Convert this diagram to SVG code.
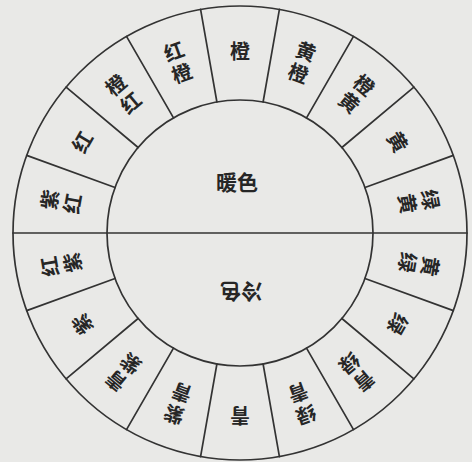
<svg xmlns="http://www.w3.org/2000/svg" width="472" height="462" viewBox="0 0 472 462">
<style>
.ln{stroke:#333;stroke-width:1.7;fill:none;stroke-linecap:round}
.lab{font-family:"Noto Sans CJK SC","Noto Sans CJK JP",sans-serif;font-size:20px;font-weight:bold;fill:#262626;text-anchor:middle;dominant-baseline:central}
.mid{font-size:21px}
</style>
<rect width="472" height="462" fill="#e9e9e7"/>
<g id="wheel">
<circle class="ln" cx="240" cy="233" r="227"/>
<circle class="ln" cx="240" cy="233" r="133"/>
</g>
<g id="connectors">
<line class="ln" x1="13" y1="233" x2="467" y2="233"/>
<line class="ln" x1="263.10" y1="102.02" x2="279.42" y2="9.45"/>
<line class="ln" x1="306.5" y1="117.82" x2="353.5" y2="36.41"/>
<line class="ln" x1="341.88" y1="147.51" x2="413.89" y2="87.09"/>
<line class="ln" x1="364.98" y1="187.51" x2="453.31" y2="155.36"/>
<line class="ln" x1="364.98" y1="278.49" x2="453.31" y2="310.64"/>
<line class="ln" x1="341.88" y1="318.49" x2="413.89" y2="378.91"/>
<line class="ln" x1="306.5" y1="348.18" x2="353.5" y2="429.59"/>
<line class="ln" x1="263.10" y1="363.98" x2="279.42" y2="456.55"/>
<line class="ln" x1="216.90" y1="102.02" x2="200.58" y2="9.45"/>
<line class="ln" x1="173.5" y1="117.82" x2="126.5" y2="36.41"/>
<line class="ln" x1="138.12" y1="147.51" x2="66.11" y2="87.09"/>
<line class="ln" x1="115.02" y1="187.51" x2="26.69" y2="155.36"/>
<line class="ln" x1="115.02" y1="278.49" x2="26.69" y2="310.64"/>
<line class="ln" x1="138.12" y1="318.49" x2="66.11" y2="378.91"/>
<line class="ln" x1="173.5" y1="348.18" x2="126.5" y2="429.59"/>
<line class="ln" x1="216.90" y1="363.98" x2="200.58" y2="456.55"/>
</g>
<g id="warm"><text class="lab mid" x="237" y="181">暖色</text></g>
<g id="cool"><text class="lab mid" transform="translate(241 293) rotate(180)" x="0" y="0">冷色</text></g>
<g id="seg-cheng" transform="translate(240 233) rotate(0)"><text class="lab" x="0" y="-183">橙</text></g>
<g id="seg-huangcheng" transform="translate(240 233) rotate(20)"><text class="lab" x="0" y="-194">黄</text><text class="lab" x="0" y="-171">橙</text></g>
<g id="seg-chenghuang" transform="translate(240 233) rotate(40)"><text class="lab" x="0" y="-194">橙</text><text class="lab" x="0" y="-171">黄</text></g>
<g id="seg-huang" transform="translate(240 233) rotate(60)"><text class="lab" x="0" y="-183">黄</text></g>
<g id="seg-lvhuang" transform="translate(240 233) rotate(80)"><text class="lab" x="0" y="-194">绿</text><text class="lab" x="0" y="-171">黄</text></g>
<g id="seg-huanglv" transform="translate(240 233) rotate(100)"><text class="lab" x="0" y="-194">黄</text><text class="lab" x="0" y="-171">绿</text></g>
<g id="seg-lv" transform="translate(240 233) rotate(120)"><text class="lab" x="0" y="-183">绿</text></g>
<g id="seg-qinglv" transform="translate(240 233) rotate(140)"><text class="lab" x="0" y="-194">青</text><text class="lab" x="0" y="-171">绿</text></g>
<g id="seg-lvqing" transform="translate(240 233) rotate(160)"><text class="lab" x="0" y="-194">绿</text><text class="lab" x="0" y="-171">青</text></g>
<g id="seg-qing" transform="translate(240 233) rotate(180)"><text class="lab" x="0" y="-183">青</text></g>
<g id="seg-ziqing" transform="translate(240 233) rotate(200)"><text class="lab" x="0" y="-194">紫</text><text class="lab" x="0" y="-171">青</text></g>
<g id="seg-qingzi" transform="translate(240 233) rotate(220)"><text class="lab" x="0" y="-194">青</text><text class="lab" x="0" y="-171">紫</text></g>
<g id="seg-zi" transform="translate(240 233) rotate(240)"><text class="lab" x="0" y="-183">紫</text></g>
<g id="seg-hongzi" transform="translate(240 233) rotate(260)"><text class="lab" x="0" y="-194">红</text><text class="lab" x="0" y="-171">紫</text></g>
<g id="seg-zihong" transform="translate(240 233) rotate(280)"><text class="lab" x="0" y="-194">紫</text><text class="lab" x="0" y="-171">红</text></g>
<g id="seg-hong" transform="translate(240 233) rotate(300)"><text class="lab" x="0" y="-183">红</text></g>
<g id="seg-chenghong" transform="translate(240 233) rotate(320)"><text class="lab" x="0" y="-194">橙</text><text class="lab" x="0" y="-171">红</text></g>
<g id="seg-hongcheng" transform="translate(240 233) rotate(340)"><text class="lab" x="0" y="-194">红</text><text class="lab" x="0" y="-171">橙</text></g>
</svg>
